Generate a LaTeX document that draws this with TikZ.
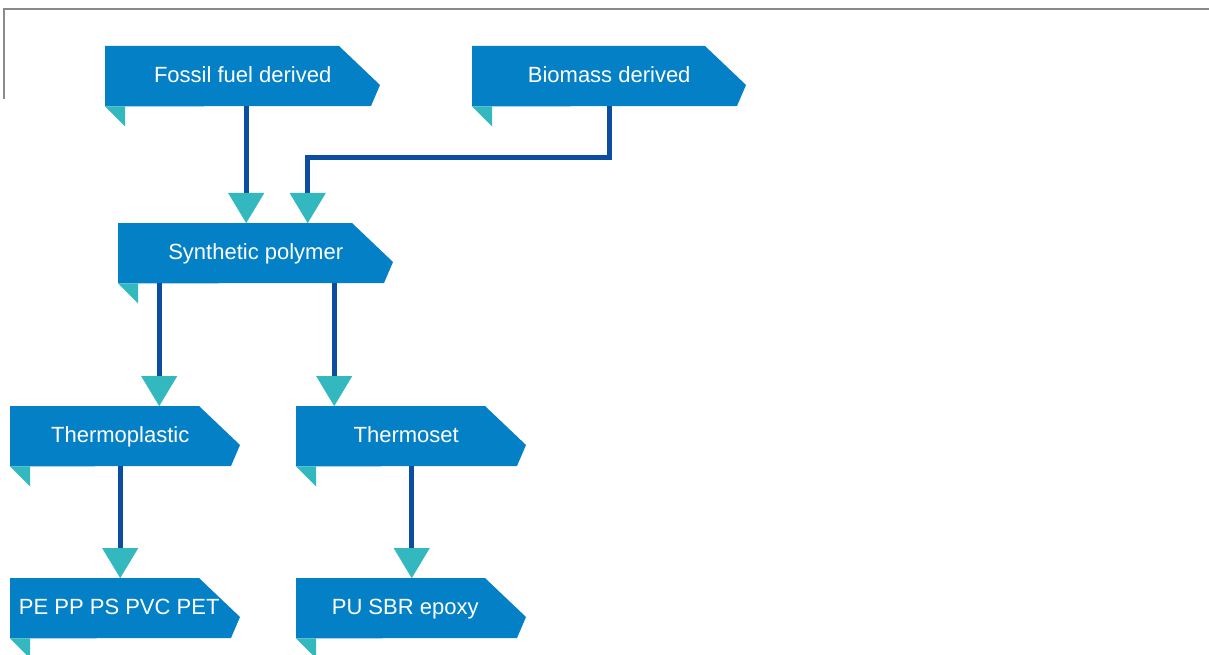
\documentclass[tikz,border=0pt]{standalone}
\usepackage{fontspec}
\setmainfont{Liberation Sans}
\usetikzlibrary{arrows.meta,backgrounds}
\definecolor{boxblue}{HTML}{0480C6}
\definecolor{tealc}{HTML}{33B8BF}
\definecolor{lineblue}{HTML}{0B4D9E}
\definecolor{framegray}{HTML}{8A8A8A}
\tikzset{
  flag/.style={minimum width=#1, minimum height=60pt, inner sep=0pt, anchor=north west,
    text height=17pt, text depth=4pt,
    text=white, font=\fontsize{22pt}{26pt}\selectfont},
  conn/.style={draw=lineblue, line width=5pt,
    -{Triangle[width=36pt,length=30pt,line width=0.1pt,color=tealc,fill=tealc]}},
  frame/.style={draw=framegray, line width=1.3pt}
}
\begin{document}
\begin{tikzpicture}[x=1pt,y=-1pt]
\useasboundingbox (0,0) rectangle (1209,655);
\draw[frame] (4,99) -- (4,9) -- (1209,9);
% nodes (text area; the flag outline is drawn behind)
\node[flag=275pt] (fossil) at (105,46) {Fossil fuel derived};
\node[flag=274pt] (bio) at (472,46) {Biomass derived};
\node[flag=275pt] (synth) at (118,223) {Synthetic polymer};
\node[flag=220pt] (tplast) at (10,406) {Thermoplastic};
\node[flag=220pt] (tset) at (296,406) {Thermoset};
\node[flag=218pt] (pe) at (10,578) {PE PP PS PVC PET};
\node[flag=218pt] (pu) at (296,578) {PU SBR epoxy};
% flag shapes
\begin{pgfonlayer}{background}
\foreach \n/\w in {fossil/275,bio/274,synth/275,tplast/230,tset/230,pe/230,pu/230}{
  \fill[boxblue] (\n.north west) -- ++(\w-41,0) -- ++(41,39) -- ++(-9,21)
     -- (\n.south west) -- cycle;
  \fill[tealc] (\n.south west) -- ++(20,0) -- ++(0,20) -- cycle;
}
\end{pgfonlayer}
% connectors
\draw[conn] ([xshift=3.5pt]fossil.south) -- ([xshift=3.5pt]fossil.south |- synth.north);
\draw[conn] (bio.south) -- ++(0,51) -| ([xshift=52pt]synth.north);
\draw[conn] ([xshift=-96.5pt]synth.south) -- ([xshift=-96.5pt]synth.south |- tplast.north);
\draw[conn] ([xshift=78.5pt]synth.south) -- ([xshift=78.5pt]synth.south |- tset.north);
\draw[conn] (tplast.south) -- (tplast.south |- pe.north);
\draw[conn] ([xshift=5.5pt]tset.south) -- ([xshift=5.5pt]tset.south |- pu.north);
\end{tikzpicture}
\end{document}
